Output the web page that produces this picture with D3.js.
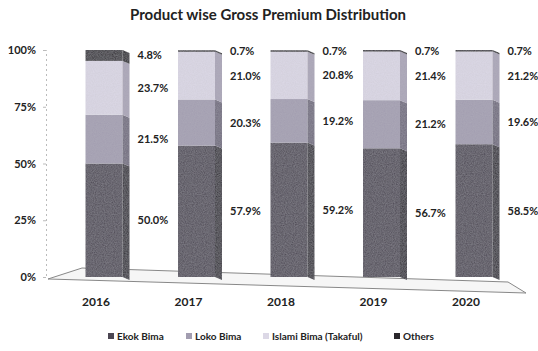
<!DOCTYPE html>
<html>
<head>
<meta charset="utf-8">
<script src="https://cdn.jsdelivr.net/npm/d3@7"></script>
<style>
  body { margin: 0; background: #fff; }
  text { font-family: Lato, "Open Sans", sans-serif; fill: #222; }
</style>
</head>
<body>
<div id="chart"></div>
<script>
// data
var years = ["2016", "2017", "2018", "2019", "2020"];
var ekokBima = [50.0, 57.9, 59.2, 56.7, 58.5];
var lokoBima = [21.5, 20.3, 19.2, 21.2, 19.6];
var islamiBima = [23.7, 21.0, 20.8, 21.4, 21.2];
var others = [4.8, 0.7, 0.7, 0.7, 0.7];
var seriesNames = ["Ekok Bima", "Loko Bima", "Islami Bima (Takaful)", "Others"];
var yTicks = [0, 25, 50, 75, 100];

var width = 538, height = 351;
var colors = ["#4b4652", "#a29db0", "#dcd8e6", "#2b282c"];
var sideColors = ["#2a272e", "#6f6a7c", "#a9a4b6", "#151315"];

var svg = d3.select("#chart").append("svg")
    .attr("width", width)
    .attr("height", height);

// speckle texture, like the scanned print
var defs = svg.append("defs");
var f = defs.append("filter").attr("id", "speckle").attr("x", 0).attr("y", 0).attr("width", 1).attr("height", 1);
f.append("feTurbulence").attr("type", "fractalNoise").attr("baseFrequency", 0.9).attr("numOctaves", 2).attr("result", "noise");
f.append("feColorMatrix").attr("in", "noise").attr("type", "matrix")
    .attr("values", "0 0 0 0 0.5  0 0 0 0 0.5  0 0 0 0 0.55  0 0 0 0.35 0").attr("result", "tint");
f.append("feComposite").attr("in", "tint").attr("in2", "SourceGraphic").attr("operator", "atop");

var x = d3.scaleBand().domain(years).range([30, 548]).padding(0.6);
var y = d3.scaleLinear().domain([0, 100]).range([277, 50]);
var depth = 7;

// build stacked table from the named arrays
var table = years.map(function (yr, i) {
    return { year: yr, s0: ekokBima[i], s1: lokoBima[i], s2: islamiBima[i], s3: others[i] };
});
var stack = d3.stack().keys(["s0", "s1", "s2", "s3"])(table);

// title
svg.append("text")
    .attr("x", 268).attr("y", 20)
    .attr("text-anchor", "middle")
    .style("font-size", "15px").style("font-weight", "bold")
    .text("Product wise Gross Premium Distribution");

// floor
svg.append("path")
    .attr("d", "M48," + (y(0) + 2) + " L82," + (y(0) - 9) + " L508," + (y(0) + 5) +
        " L526," + (y(0) + 16) + " Z")
    .attr("fill", "#f6f6f6")
    .attr("stroke", "#888")
    .attr("stroke-width", 1);

// y axis (dotted tick line)
var yAxis = d3.axisLeft(y).tickValues(yTicks).tickFormat(function (d) { return d + "%"; }).tickSize(3);
var gy = svg.append("g").attr("transform", "translate(46,0)").call(yAxis);
gy.select(".domain").attr("stroke", "#bbb").attr("stroke-dasharray", "2,3");
gy.selectAll(".tick line").attr("stroke", "#bbb");
gy.selectAll(".tick text").style("font-size", "11px").style("font-weight", "bold").attr("x", -10);

// bars
stack.forEach(function (layer, k) {
    var g = svg.append("g").attr("filter", "url(#speckle)");
    g.selectAll(".front").data(layer).enter().append("rect")
        .attr("x", function (d) { return x(d.data.year); })
        .attr("y", function (d) { return y(d[1]); })
        .attr("width", x.bandwidth())
        .attr("height", function (d) { return y(d[0]) - y(d[1]); })
        .attr("fill", colors[k]);
    g.selectAll(".side").data(layer).enter().append("path")
        .attr("d", function (d) {
            var x0 = x(d.data.year) + x.bandwidth();
            return "M" + x0 + "," + y(d[1]) + " L" + (x0 + depth) + "," + (y(d[1]) + 3) +
                " L" + (x0 + depth) + "," + (y(d[0]) + 3) + " L" + x0 + "," + y(d[0]) + " Z";
        })
        .attr("fill", sideColors[k]);
});

// value labels
stack.forEach(function (layer, k) {
    svg.append("g").selectAll("text").data(layer).enter().append("text")
        .attr("x", function (d) { return x(d.data.year) + x.bandwidth() + depth + 8; })
        .attr("y", function (d) { return y((d[0] + d[1]) / 2) + 4; })
        .style("font-size", "11px").style("font-weight", "bold")
        .text(function (d) { return (d[1] - d[0]).toFixed(1) + "%"; });
});

// x axis labels
var xAxis = d3.axisBottom(x).tickSize(0);
var gx = svg.append("g").attr("transform", "translate(-8,294)").call(xAxis);
gx.select(".domain").remove();
gx.selectAll(".tick text").style("font-size", "12px").style("font-weight", "bold");

// legend
var legendX = [108, 186, 263, 394];
var lg = svg.append("g").attr("transform", "translate(0,340)");
seriesNames.forEach(function (name, k) {
    lg.append("rect").attr("x", legendX[k]).attr("y", -7).attr("width", 6).attr("height", 6)
        .attr("fill", colors[k]);
    lg.append("text").attr("x", legendX[k] + 9).attr("y", 0)
        .style("font-size", "10px").style("font-weight", "bold")
        .text(name);
});
</script>
</body>
</html>
